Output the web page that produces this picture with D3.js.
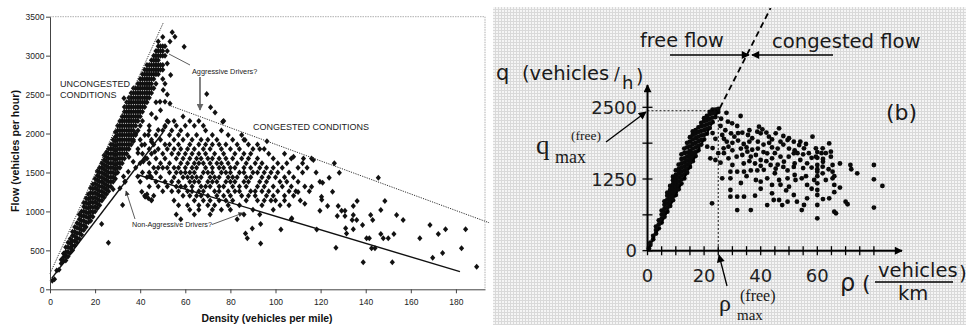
<!DOCTYPE html>
<html><head><meta charset="utf-8">
<script src="https://cdn.jsdelivr.net/npm/d3@7"></script>
<style>body{margin:0;background:#fff}svg{display:block}</style>
</head><body><svg id="c" width="966" height="325"></svg>
<script>
// ================= DATA : panel (a) flow vs density (veh/mile) =================
const aXTicks = [0,20,40,60,80,100,120,140,160,180];
const aYTicks = [0,500,1000,1500,2000,2500,3000,3500];
// uncongested band: [density, [flows]]
const aFreeRows = [
 [1,[110]],[2,[130]],[3,[240]],[4,[250]],[5,[330,380]],[6,[360,410,460]],
 [7,[370,430,480,540]],[8,[420,480,540,600]],[9,[470,530,590,650]],
 [10,[500,560,620,690,740]],[11,[560,620,680,740,800]],[12,[600,660,720,790,850]],
 [13,[650,720,780,840,900,960]],[14,[700,760,820,880,940,1000]],
 [15,[760,820,880,940,1000,1060,1110]],[16,[800,860,930,990,1050,1110,1170]],
 [17,[860,920,980,1040,1100,1160,1220]],[18,[880,940,1000,1060,1120,1180,1240,1300]],
 [19,[930,990,1050,1110,1170,1230,1290,1350]],[20,[1000,1060,1120,1180,1240,1300,1360,1420]],
 [21,[1040,1100,1160,1220,1280,1340,1400,1460,1520]],[22,[1080,1140,1200,1260,1320,1380,1440,1500,1560]],
 [23,[1140,1200,1260,1320,1380,1440,1500,1560,1620]],[24,[1180,1240,1300,1360,1420,1480,1540,1600,1660,1720]],
 [25,[1220,1280,1340,1400,1460,1520,1580,1640,1700,1760]],[26,[1260,1320,1380,1440,1500,1560,1620,1680,1740,1800]],
 [27,[1320,1380,1440,1500,1560,1620,1680,1740,1800,1860]],[28,[1380,1440,1500,1560,1620,1680,1740,1800,1860,1920]],
 [29,[1420,1480,1540,1600,1660,1720,1780,1840,1900,1960,2020]],[30,[1500,1560,1620,1680,1740,1800,1860,1920,1980,2040,2100]],
 [31,[1560,1620,1680,1740,1800,1860,1920,1980,2040,2100,2160]],[32,[1620,1680,1740,1800,1860,1920,1980,2040,2100,2160,2220]],
 [33,[1680,1740,1800,1860,1920,1980,2040,2100,2160,2220,2280,2340]],[34,[1740,1800,1860,1920,1980,2040,2100,2160,2220,2280,2340,2400]],
 [35,[1800,1860,1920,1980,2040,2100,2160,2220,2280,2340,2400,2460]],[36,[1860,1920,1980,2040,2100,2160,2220,2280,2340,2400,2460,2520]],
 [37,[1920,1980,2040,2100,2160,2220,2280,2340,2400,2460,2520,2580]],[38,[1980,2100,2160,2220,2280,2340,2400,2460,2520,2580]],
 [39,[2040,2160,2220,2280,2340,2400,2460,2520,2580,2640]],[40,[2100,2220,2280,2340,2400,2460,2520,2580,2640,2700]],
 [41,[2160,2280,2340,2400,2460,2520,2580,2640,2700,2760]],[42,[2340,2400,2460,2520,2580,2640,2700,2760,2820]],
 [43,[2400,2460,2520,2580,2640,2700,2760,2820,2880]],[44,[2460,2520,2580,2640,2700,2760,2820,2880]],
 [45,[2520,2580,2640,2700,2760,2820,2880,2940]],[46,[2580,2700,2760,2820,2880,2940,3000]],
 [47,[2640,2760,2820,2880,2940,3000,3060]],[48,[2760,2820,2880,2940,3000,3060,3120,3180]],
 [49,[2820,2880,3000,3060,3120]],[50,[2820,2880,3000,3060,3120,3240]],[51,[3000,3120]]
];
// scattered points around the peak and between the branches: [density, flow]
const aTransition = [
 [22.9,838],[25.9,598],[32.2,1082],[31,1296],[33.3,1382],[32.6,1447],[34.7,1510],[38.9,1447],[40.7,1254],
 [42.2,1189],[43.6,1168],[36.9,1638],[42.2,1681],[46.5,1767],[48,2045],[51,2088],[45,1896],[43.6,1981],
 [40.7,1853],[48.8,2409],[51,2409],[52.5,2152],[32.8,2452],[54.2,3299],[55.4,3243],[53.2,3180],[59.5,3115],
 [52,3060],[69.5,2507],[71.2,2336],[73.2,2270],[76.6,2152],[53.5,2750],[50.2,2558],[53.2,2386],[28,1284],
 [33.2,1381],[41.4,1642],[44.4,1456],[45,1146],[43,1220],[37,1900],[39,1750],[35,1700],[38,2000],[47,2200],
 [49,2300],[45,2250],[51,2640],[52,2900],[50,2700],[52,2500],[47,2400],[44,2100]
];
// congested cloud: [flow, [densities]]
const aCongRows = [
 [2220,[59]],[2160,[52,55,62,66,77]],[2100,[51,56,60,64,68]],[2040,[44,50,54,58,69,76]],
 [1980,[42,47,53,57,61,65,72,79,85]],[1920,[40,45,49,55,59,63,67,70,74,81,86]],
 [1860,[42,46,51,53,57,62,66,69,72,75,78,83,88,92]],
 [1800,[39,44,48,52,55,58,61,64,68,71,76,80,84,90,93,95]],
 [1740,[41,45,50,54,57,60,63,66,69,73,77,82,86,89,97,104]],
 [1680,[43,47,51,56,59,62,65,67,70,72,75,78,81,85,88,92,99,107,116]],
 [1620,[40,44,49,53,58,61,64,66,68,71,74,76,79,83,87,91,94,101,105,112]],
 [1560,[38,46,48,50,52,55,57,60,63,65,69,72,75,77,80,82,86,89,93,96,99,103,110]],
 [1500,[41,44,47,53,56,58,60,62,64,68,70,72,76,78,80,84,86,90,92,95,98,101,106,112]],
 [1440,[43,45,49,55,59,61,63,65,67,71,73,75,79,81,83,87,89,94,97,100,104,108]],
 [1380,[40,47,51,54,57,62,64,66,70,72,74,78,80,82,86,88,93,96,102,105,110]],
 [1320,[44,48,52,56,58,60,63,67,69,71,75,77,81,84,87,92,95,99,103,107,113]],
 [1260,[50,54,57,61,63,66,68,73,75,79,82,84,89,91,94,97,101,106,109,115]],
 [1200,[42,46,59,62,65,67,70,74,77,80,85,88,91,96,99,104,108]],
 [1140,[45,55,64,68,71,75,78,81,87,92,95,98,100,104,111]],
 [1080,[57,61,66,70,73,79,84,94,102,106]],[1020,[62,66,72,76,80,90,99]],
 [960,[56,64,71,86,93]],[900,[58,83,107]]
];
const aCongSparse = [
 [126.1,1617],[128.3,1497],[123.8,1433],[120.9,1369],[125.3,1253],[120.4,1189],[123.1,1069],[119.7,1009],
 [127.8,1069],[129.3,1009],[130.8,1009],[127.4,941],[130.8,941],[134.5,1069],[136.2,1133],[134.5,953],
 [134,889],[136,889],[138.6,825],[131.1,783],[131.5,718],[134.5,770],[142.2,953],[143.1,889],[146.7,1018],
 [148.5,1133],[145.6,1433],[153.7,953],[156.6,889],[140.4,654],[141.6,654],[146.7,710],[147.8,654],[150,654],
 [152.5,710],[142.6,526],[144.1,526],[138.9,347],[126.8,534],[151.8,347],[164,654],[168.5,825],[172.2,710],
 [175.4,770],[169.7,406],[174.1,466],[182.5,526],[184.3,770],[189.2,290],
 [108,1703],[112.4,1680],[116.8,1660],[119.7,1382],[116,1318],[120.5,1150],[118.3,769],[107.2,911],
 [96.2,1902],[86.5,1916],[86.7,718],[87.5,654],[89.7,782],[93.4,837],[93.4,589],[102.4,769],
 [118,1500],[114,1560],[110,1250],[113,1100]
];
// reference lines [ [density, flow], [density, flow] ]
const aUpperFreeLine = [[0,200],[50.2,3420]];
const aLowerFreeLine = [[0.75,141],[50,2010]];
const aUpperCongLine = [[52.5,2366],[194.7,855]];
const aLowerCongLine = [[39.2,1467],[181.8,226]];

// ================= DATA : panel (b) q vs rho (veh/km) =================
const bXLabels = [0,20,40,60];
const bXTicks = [0,5,10,15,20,25,30,35,40,45,50,55,60,65,70,75,80];
const bYLabels = [0,1250,2500];
const bYTicks = [0,625,1250,1875,2500];
const bFreeRows = [
 [0.5,[40]],[1,[100,140]],[2,[200,260]],[3,[300,360,420]],[4,[390,460,530]],[5,[490,560,630,700]],
 [6,[590,660,730,800,860]],[7,[680,750,820,890,960,1010]],[8,[780,850,920,990,1060,1130]],
 [9,[880,950,1020,1090,1160,1230,1290]],[10,[970,1040,1110,1180,1250,1320,1400]],
 [11,[1070,1140,1210,1280,1350,1420,1500]],[12,[1170,1240,1310,1380,1450,1520,1600,1680]],
 [13,[1260,1330,1400,1470,1540,1610,1700,1780]],[14,[1360,1430,1500,1570,1640,1710,1800,1880]],
 [15,[1460,1530,1600,1670,1740,1820,1900,1980]],[16,[1560,1630,1700,1780,1860,1940,2020,2080]],
 [17,[1650,1720,1800,1880,1960,2040,2100]],[18,[1750,1830,1910,1990,2070,2150]],
 [19,[1850,1930,2010,2090,2170,2230]],[20,[1940,2020,2100,2180,2260,2310]],
 [21,[2040,2120,2200,2280,2350]],[22,[2140,2220,2300,2380,2420]],[23,[2240,2320,2400,2460]],
 [24,[2330,2400,2460]],[25,[2420,2470]]
];
const bCong = [
 [27.9,2404],[28.4,2249],[29.9,2220],[32.9,2348],[31.7,2174],[25.8,2174],[26.4,2017],[29.5,2046],[30.7,1988],
 [33.5,2058],[35.5,2017],[38.8,2075],[39.4,2162],[40.6,2116],[40,2046],[42.9,1988],[45.3,2046],[46.5,2133],
 [49.5,1930],[51.7,1900],[53.6,1842],[55.3,1784],[58.3,1988],[59.5,1784],[61.9,1784],[64.2,1871],[64.8,1726],
 [21.1,1813],[23,1790],[26.9,1784],[28.6,1813],[22.2,1610],[24,1581],[25.8,1535],[28.6,1610],[30,1494],
 [31.5,1640],[33.5,1668],[35.3,1726],[36.5,1639],[38.3,1668],[40,1581],[42.3,1697],[44,1610],[47,1639],
 [48.2,1552],[49.9,1639],[51.7,1697],[54,1581],[56.4,1523],[59.5,1639],[60,1494],[61.9,1465],[64.8,1639],
 [65.4,1494],[29.3,1378],[31.7,1378],[34.1,1378],[36.5,1400],[38.8,1400],[41.1,1410],[43.5,1494],[45.3,1430],
 [49.5,1400],[51.7,1460],[60,1378],[61.9,1349],[65.4,1378],[71.7,1494],[74.1,1349],[80,1494],
 [29.3,1262],[26.4,1262],[38.3,1233],[40,1204],[42.3,1262],[44,1146],[46.5,1233],[49.5,1262],[50,1117],
 [52.3,1233],[54.5,1262],[56.4,1146],[58.9,1233],[60,1175],[60,1058],[63,1233],[65.4,1262],[66,1146],
 [80,1245],[83,1129],[29.3,1058],[29.3,942],[31.7,942],[34.1,942],[22.8,826],[31.7,709],[36.5,709],
 [42.3,796],[44.6,884],[46.5,884],[47.6,796],[49.5,855],[51.7,971],[52.8,855],[55.3,797],[56.4,913],
 [54.5,709],[60,971],[60,797],[60,564],[64.2,913],[66,680],[66.6,651],[70,855],[70.7,810],[80,752],
 [27,1950],[28,1900],[30,1880],[32,1920],[34,1860],[36,1900],[37,1960],[39,1900],[41,1850],[43,1880],
 [44,1800],[46,1780],[47,1900],[48,1850],[50,1780],[52,1750],[53,1700],[55,1680],[57,1700],[58,1620],
 [62,1600],[63,1700],[33,1780],[35,1800],[37,1760],[39,1780],[41,1720],[45,1700],[27,1700],[30,1750],
 [24,1950],[23,2050],[26,2300],[27.5,2100],[32,2050],[36,2100],[42,2060],[44,1940],[48,2000],[50,1960],
 [54,1900],[56,1860],[34,1520],[36,1560],[38,1520],[40,1480],[42,1560],[46,1500],[48,1460],[52,1520],
 [55,1440],[58,1450],[62,1550],[64,1420],[66,1300],[66,1020],[68,1100],[60,1300],[60,1420],[60,1620],
 [60,1720],[61.5,1700],[35,1300],[33,1180],[45,1350],[52,1320],[56,1300],[58,1080],[62,900],[49,1050],
 [44,1000],[40,1080],[38,960],[47,1150],[72,1420],[68,1520],[25,1700]
];
const bDashedLine = [[0,0],[43.5,4230]];
const bMaxFree = [25, 2440];

// ================= DRAW =================
const svg = d3.select('#c');
const defs = svg.append('defs');
const pat = defs.append('pattern').attr('id','mesh').attr('patternUnits','userSpaceOnUse')
  .attr('width',3).attr('height',3);
pat.append('rect').attr('width',3).attr('height',3).attr('fill','#d9d9d9');
pat.append('rect').attr('x',1).attr('y',1).attr('width',2).attr('height',2).attr('fill','#f5f5f5');
function marker(id, color, w, h){
  defs.append('marker').attr('id',id).attr('viewBox','0 0 10 10').attr('refX',9).attr('refY',5)
    .attr('markerUnits','userSpaceOnUse').attr('markerWidth',w).attr('markerHeight',h)
    .attr('orient','auto').append('path').attr('d','M0,0L10,5L0,10Z').attr('fill',color);
}
marker('ahGray','#666',7,7);
marker('ahDark','#333',6,5);
marker('ahB','#000',10,8);

// ---------- panel (a) ----------
const xA = d3.scaleLinear().domain([0,192.9]).range([50,485]);
const yA = d3.scaleLinear().domain([0,3500]).range([289.3,16.7]);
const gA = svg.append('g');
const fontA = 'Liberation Sans, Arial, sans-serif';

gA.append('path').attr('d',`M${xA(0)},${yA(3500)}H${xA(192.9)}V${yA(0)}`)
  .attr('fill','none').attr('stroke','#9a9a9a').attr('stroke-width',0.8).attr('stroke-dasharray','1.5,1');

const diamond = 'M0,-3L2.6,0L0,3L-2.6,0Z';
const aPts = [].concat(
  aFreeRows.flatMap(([k,qs]) => qs.map(q => [k,q])),
  aTransition,
  aCongRows.flatMap(([q,ks]) => ks.map(k => [k,q])),
  aCongSparse);
gA.append('g').selectAll('path').data(aPts).join('path')
  .attr('d',diamond).attr('transform',d=>`translate(${xA(d[0])},${yA(d[1])})`).attr('fill','#111');

const lineA = d3.line().x(d=>xA(d[0])).y(d=>yA(d[1]));
gA.append('path').attr('d',lineA(aUpperFreeLine)).attr('stroke','#333').attr('stroke-width',1).attr('stroke-dasharray','1.2,1.2').attr('fill','none');
gA.append('path').attr('d',lineA(aUpperCongLine)).attr('stroke','#333').attr('stroke-width',1).attr('stroke-dasharray','1.2,1.2').attr('fill','none');
gA.append('path').attr('d',lineA(aLowerFreeLine)).attr('stroke','#111').attr('stroke-width',1.4).attr('fill','none');
gA.append('path').attr('d',lineA(aLowerCongLine)).attr('stroke','#111').attr('stroke-width',1.4).attr('fill','none');

const axA = gA.append('g').attr('transform',`translate(0,${yA(0)})`)
  .call(d3.axisBottom(xA).tickValues(aXTicks).tickFormat(d3.format('d')).tickSize(4).tickSizeOuter(0).tickPadding(6));
const ayA = gA.append('g').attr('transform',`translate(${xA(0)},0)`)
  .call(d3.axisLeft(yA).tickValues(aYTicks).tickFormat(d3.format('d')).tickSize(4).tickSizeOuter(0).tickPadding(1.5));
[axA, ayA].forEach(a => {
  a.selectAll('path,line').attr('stroke','#444');
  a.selectAll('text').attr('font-family',fontA).attr('font-size',8.5).attr('fill','#222');
});
gA.append('text').attr('x',267).attr('y',322).attr('text-anchor','middle')
  .attr('font-family',fontA).attr('font-weight','bold').attr('font-size',10.4).attr('fill','#111')
  .text('Density (vehicles per mile)');
gA.append('text').attr('transform','translate(18.5,151) rotate(-90)').attr('text-anchor','middle')
  .attr('font-family',fontA).attr('font-weight','bold').attr('font-size',10.6).attr('fill','#111')
  .text('Flow (vehicles per hour)');

function lab(x,y,t,size){ gA.append('text').attr('x',x).attr('y',y).attr('font-family',fontA)
  .attr('font-size',size).attr('fill','#222').text(t); }
lab(60,86.5,'UNCONGESTED',9);
lab(60,98,'CONDITIONS',9);
lab(253,129.5,'CONGESTED CONDITIONS',9);
lab(192,73.5,'Aggressive Drivers?',7.3);
lab(132,226.5,'Non-Aggressive Drivers?',7.2);
gA.append('line').attr('x1',169).attr('y1',54).attr('x2',190).attr('y2',65).attr('stroke','#333').attr('stroke-width',0.8);
gA.append('line').attr('x1',200).attr('y1',77).attr('x2',200).attr('y2',110).attr('stroke','#666').attr('stroke-width',1.6).attr('marker-end','url(#ahGray)');
gA.append('line').attr('x1',135).attr('y1',219).attr('x2',126).attr('y2',191).attr('stroke','#333').attr('stroke-width',0.8).attr('marker-end','url(#ahDark)');
gA.append('line').attr('x1',212).attr('y1',224.5).attr('x2',243).attr('y2',213).attr('stroke','#333').attr('stroke-width',0.8).attr('marker-end','url(#ahDark)');

// ---------- panel (b) ----------
svg.append('rect').attr('x',493).attr('y',7).attr('width',473).attr('height',318).attr('fill','url(#mesh)');
const xB = d3.scaleLinear().domain([0,80]).range([647.5,873.9]);
const yB = d3.scaleLinear().domain([0,2500]).range([250.7,107.3]);
const gB = svg.append('g');
const fontB = 'DejaVu Sans, sans-serif';
const serif = 'Liberation Serif, Times New Roman, serif';

const bPts = [].concat(bFreeRows.flatMap(([r,qs]) => qs.map(q => [r,q])), bCong);
gB.append('g').selectAll('circle').data(bPts).join('circle')
  .attr('cx',d=>xB(d[0])).attr('cy',d=>yB(d[1])).attr('r',2.4).attr('fill','#0a0a0a');

const lineB = d3.line().x(d=>xB(d[0])).y(d=>yB(d[1]));
gB.append('path').attr('d',lineB(bDashedLine)).attr('stroke','#000').attr('stroke-width',1.8)
  .attr('stroke-dasharray','6,4').attr('fill','none');
gB.append('path').attr('d',lineB([[0,bMaxFree[1]],bMaxFree,[bMaxFree[0],0]]))
  .attr('stroke','#000').attr('stroke-width',0.9).attr('stroke-dasharray','2,2').attr('fill','none');

gB.append('line').attr('x1',xB(0)).attr('y1',yB(0)).attr('x2',902).attr('y2',yB(0))
  .attr('stroke','#000').attr('stroke-width',2).attr('marker-end','url(#ahB)');
gB.append('line').attr('x1',xB(0)).attr('y1',yB(0)).attr('x2',xB(0)).attr('y2',85)
  .attr('stroke','#000').attr('stroke-width',2).attr('marker-end','url(#ahB)');
gB.append('g').selectAll('line').data(bXTicks).join('line')
  .attr('x1',d=>xB(d)).attr('x2',d=>xB(d)).attr('y1',yB(0)-4.5).attr('y2',yB(0)+4.5)
  .attr('stroke','#000').attr('stroke-width',1.3);
gB.append('g').selectAll('line').data(bYTicks).join('line')
  .attr('y1',d=>yB(d)).attr('y2',d=>yB(d)).attr('x1',xB(0)-5).attr('x2',xB(0)+5)
  .attr('stroke','#000').attr('stroke-width',1.3);
gB.append('g').selectAll('text').data(bXLabels).join('text')
  .attr('x',d=>xB(d)).attr('y',282).attr('text-anchor','middle')
  .attr('font-family',fontB).attr('font-size',18).attr('fill','#222').text(d=>d);
gB.append('g').selectAll('text').data(bYLabels).join('text')
  .attr('x',637).attr('y',d=>yB(d)+6.5).attr('text-anchor','end')
  .attr('font-family',fontB).attr('font-size',18).attr('fill','#222').text(d=>d);

function labB(x,y,t,size,fam,anchor){ return gB.append('text').attr('x',x).attr('y',y)
  .attr('font-family',fam||fontB).attr('font-size',size).attr('fill','#1a1a1a')
  .attr('text-anchor',anchor||'start').text(t); }
labB(640,47,'free flow',19.3);
labB(772,48,'congested flow',19.6);
gB.append('line').attr('x1',670).attr('y1',55).attr('x2',749).attr('y2',55).attr('stroke','#000').attr('stroke-width',1.3).attr('marker-end','url(#ahB)');
gB.append('line').attr('x1',833).attr('y1',55).attr('x2',752).attr('y2',55).attr('stroke','#000').attr('stroke-width',1.3).attr('marker-end','url(#ahB)');
labB(496,80,'q',21);
labB(522,80,'(vehicles',19.5);
labB(614,80,'/',17);
labB(622,89,'h',18);
labB(636,83,')',19);
labB(886,120,'(b)',22);
labB(536,154,'q',27,serif);
labB(555,163,'max',18,serif);
labB(571,140,'(free)',13.5,serif);
gB.append('line').attr('x1',606).attr('y1',142).attr('x2',646).attr('y2',112).attr('stroke','#000').attr('stroke-width',1.3).attr('marker-end','url(#ahB)');
labB(719,311,'ρ',24,serif);
labB(737,320,'max',15,serif);
labB(740,301,'(free)',16,serif);
gB.append('line').attr('x1',727).attr('y1',286).attr('x2',719).attr('y2',255).attr('stroke','#000').attr('stroke-width',1.3).attr('marker-end','url(#ahB)');
labB(840,291,'ρ',24);
labB(862,291,'(',22);
labB(878,277,'vehicles',19.5);
gB.append('line').attr('x1',875).attr('y1',282).attr('x2',953).attr('y2',282).attr('stroke','#000').attr('stroke-width',1.3);
labB(898,300,'km',19.5);
labB(959,280,')',20);
</script></body></html>
